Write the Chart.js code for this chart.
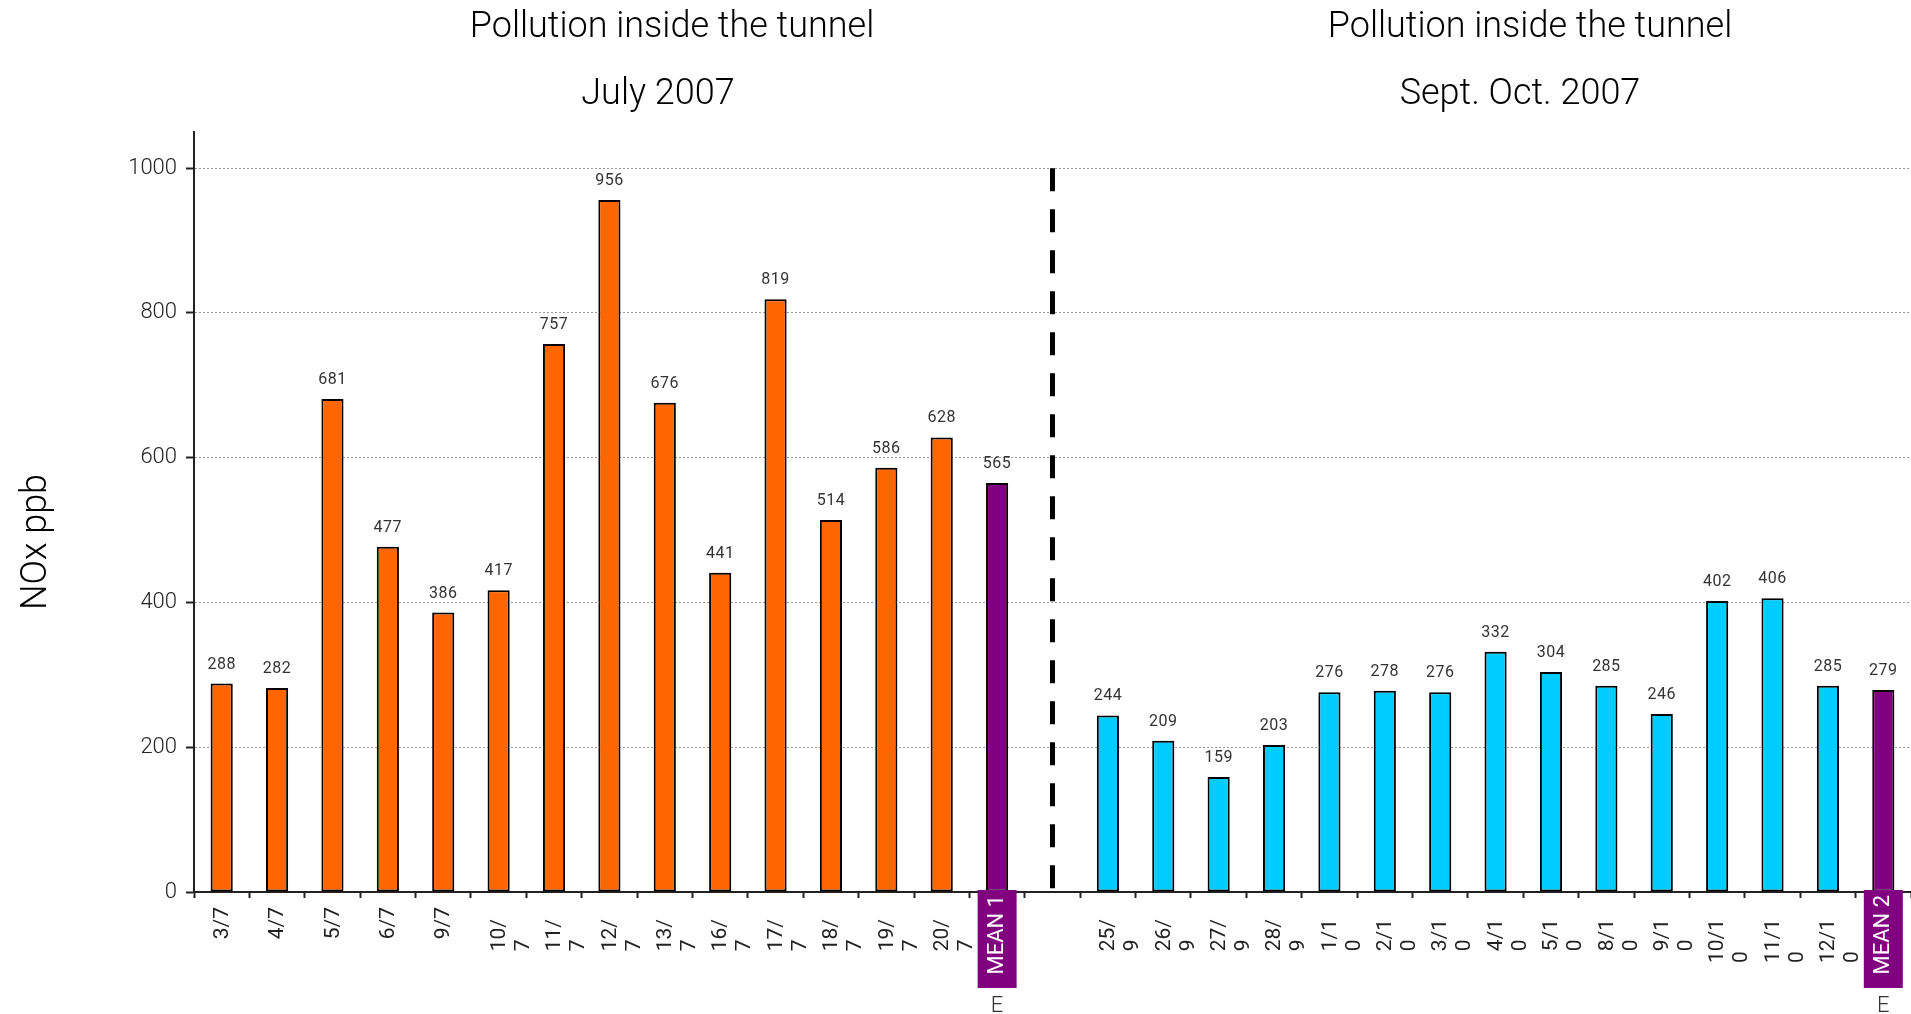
<!DOCTYPE html>
<html>
<head>
<meta charset="utf-8">
<title>NOx ppb – pollution inside the tunnel, 2007</title>
<script src="https://cdn.jsdelivr.net/npm/chart.js@4.4.1/dist/chart.umd.min.js"></script>
<style>
  html, body { margin: 0; padding: 0; background: #fff; overflow: hidden; }
  canvas { display: block; }
</style>
</head>
<body>
<canvas id="chart" width="1911" height="1014"></canvas>
<script>
// ---- July 2007 campaign: daily NOx (ppb) ----
const julyDays = [["3/7"], ["4/7"], ["5/7"], ["6/7"], ["9/7"], ["10/", "7"], ["11/", "7"],
                  ["12/", "7"], ["13/", "7"], ["16/", "7"], ["17/", "7"], ["18/", "7"],
                  ["19/", "7"], ["20/", "7"]];
const julyValues = [288, 282, 681, 477, 386, 417, 757, 956, 676, 441, 819, 514, 586, 628];
const julyMean = 565;
const julyMeanLabel = "MEAN 1";

// ---- Sept./Oct. 2007 campaign: daily NOx (ppb) ----
const autumnDays = [["25/", "9"], ["26/", "9"], ["27/", "9"], ["28/", "9"], ["1/1", "0"],
                    ["2/1", "0"], ["3/1", "0"], ["4/1", "0"], ["5/1", "0"], ["8/1", "0"],
                    ["9/1", "0"], ["10/1", "0"], ["11/1", "0"], ["12/1", "0"]];
const autumnValues = [244, 209, 159, 203, 276, 278, 276, 332, 304, 285, 246, 402, 406, 285];
const autumnMean = 279;
const autumnMeanLabel = "MEAN 2";
const meanTail = "E";

// ---- axis ----
const yTicks = [0, 200, 400, 600, 800, 1000];
const yMax = 1050;
const yAxisTitle = "NOx ppb";
const periodTitles = [
  ["Pollution inside the tunnel", "July 2007"],
  ["Pollution inside the tunnel", "Sept. Oct. 2007"]
];

// ---- colours ----
const JULY_COLOR = "#FF6600";
const AUTUMN_COLOR = "#00CCFF";
const MEAN_COLOR = "#800080";
const FONT_FAMILY = "Roboto, 'Liberation Sans', Arial, sans-serif";
const fontSpec = (size, weight) => `${weight || 400} ${size}px ${FONT_FAMILY}`;

// Category layout: July days, July mean, a separator slot, autumn days, autumn mean
const categories = [];
const kinds = [];
const values = [];
const colors = [];
julyDays.forEach((d, i) => { categories.push(d); kinds.push("day"); values.push(julyValues[i]); colors.push(JULY_COLOR); });
categories.push([julyMeanLabel]); kinds.push("mean"); values.push(julyMean); colors.push(MEAN_COLOR);
categories.push([""]); kinds.push("gap"); values.push(null); colors.push("transparent");
autumnDays.forEach((d, i) => { categories.push(d); kinds.push("day"); values.push(autumnValues[i]); colors.push(AUTUMN_COLOR); });
categories.push([autumnMeanLabel]); kinds.push("mean"); values.push(autumnMean); colors.push(MEAN_COLOR);
const gapIndex = kinds.indexOf("gap");

// Value printed above every bar
const valueLabels = {
  id: "valueLabels",
  afterDatasetsDraw(chart) {
    const ctx = chart.ctx;
    const meta = chart.getDatasetMeta(0);
    ctx.save();
    ctx.font = fontSpec(16);
    ctx.fillStyle = "#333";
    ctx.textAlign = "center";
    ctx.textBaseline = "alphabetic";
    if ("letterSpacing" in ctx) ctx.letterSpacing = "0.5px";
    meta.data.forEach((bar, i) => {
      if (values[i] == null) return;
      ctx.fillText(String(values[i]), bar.x, bar.y - 15);
    });
    ctx.restore();
  }
};

// Thick dashed line separating the two campaigns
const campaignDivider = {
  id: "campaignDivider",
  afterDatasetsDraw(chart) {
    const { ctx, scales: { x, y } } = chart;
    const px = x.getPixelForValue(gapIndex);
    ctx.save();
    ctx.strokeStyle = "#000";
    ctx.lineWidth = 5;
    ctx.setLineDash([23, 18]);
    ctx.beginPath();
    ctx.moveTo(px, y.getPixelForValue(1000));
    ctx.lineTo(px, y.getPixelForValue(0));
    ctx.stroke();
    ctx.restore();
  }
};

// Rotated date labels under the axis, with the boxed mean labels
const dateLabels = {
  id: "dateLabels",
  afterDraw(chart) {
    const { ctx, scales: { x } } = chart;
    const axisY = chart.chartArea.bottom;
    ctx.save();
    categories.forEach((lines, i) => {
      const kind = kinds[i];
      if (kind === "gap") return;
      const px = x.getPixelForValue(i);
      if (kind === "mean") {
        ctx.fillStyle = MEAN_COLOR;
        ctx.fillRect(px - 19.5, axisY - 2, 39, 98);
        ctx.save();
        ctx.translate(px, axisY);
        ctx.rotate(-Math.PI / 2);
        ctx.font = fontSpec(22);
        ctx.fillStyle = "#fff";
        ctx.textAlign = "right";
        ctx.textBaseline = "middle";
        ctx.fillText(lines[0], -3, 0);
        ctx.restore();
        ctx.font = fontSpec(22, 300);
        ctx.fillStyle = "#333";
        ctx.textAlign = "center";
        ctx.textBaseline = "alphabetic";
        ctx.fillText(meanTail, px, axisY + 120);
        return;
      }
      ctx.font = fontSpec(21);
      ctx.fillStyle = "#222";
      const maxW = Math.max(...lines.map(l => ctx.measureText(l).width));
      const off = lines.length > 1 ? 27 : 15;
      ctx.save();
      ctx.translate(px, axisY);
      ctx.rotate(-Math.PI / 2);
      ctx.textAlign = "left";
      ctx.textBaseline = "middle";
      lines.forEach((l, k) => ctx.fillText(l, -(off + maxW), 1 + k * 24));
      ctx.restore();
    });
    ctx.restore();
  }
};

// Period headings and the vertical axis title
const headings = {
  id: "headings",
  afterDraw(chart) {
    const ctx = chart.ctx;
    ctx.save();
    ctx.font = fontSpec(36, 300);
    ctx.fillStyle = "#000";
    ctx.textAlign = "center";
    ctx.textBaseline = "alphabetic";
    const centers = [[672, 658], [1530, 1520]];
    periodTitles.forEach((t, g) => {
      ctx.fillText(t[0], centers[g][0], 37);
      ctx.fillText(t[1], centers[g][1], 104);
    });
    ctx.translate(37, 542);
    ctx.rotate(-Math.PI / 2);
    ctx.textBaseline = "middle";
    ctx.fillText(yAxisTitle, 0, 0);
    ctx.restore();
  }
};

new Chart(document.getElementById("chart"), {
  type: "bar",
  data: {
    labels: categories,
    datasets: [{
      data: values,
      backgroundColor: colors,
      borderColor: "#000",
      borderWidth: 2,
      borderSkipped: false,
      barPercentage: 0.4,
      categoryPercentage: 1.0
    }]
  },
  options: {
    responsive: false,
    devicePixelRatio: 1,
    animation: false,
    layout: { padding: { top: 132, right: 0, bottom: 0, left: 0 } },
    plugins: { legend: { display: false }, tooltip: { enabled: false }, title: { display: false } },
    scales: {
      x: {
        offset: true,
        afterFit(s) { s.height = 122; },
        ticks: { display: false },
        grid: { drawOnChartArea: false, drawTicks: true, tickLength: 6, tickWidth: 2, tickColor: "#222", offset: true },
        border: { display: true, color: "#222", width: 2 }
      },
      y: {
        min: 0,
        max: yMax,
        afterFit(s) { s.width = 194; },
        afterBuildTicks(s) { s.ticks = yTicks.map(v => ({ value: v })); },
        ticks: {
          font: { family: FONT_FAMILY, size: 22, weight: 300 },
          color: "#222",
          padding: 9,
          callback: v => String(v)
        },
        grid: {
          color: c => (c.tick && c.tick.value === 0 ? "transparent" : "#999"),
          lineWidth: 1,
          tickLength: 8,
          tickWidth: 2,
          tickColor: "#222"
        },
        border: { display: true, color: "#222", width: 2, dash: [2, 2] }
      }
    }
  },
  plugins: [campaignDivider, valueLabels, dateLabels, headings]
});
</script>
</body>
</html>
